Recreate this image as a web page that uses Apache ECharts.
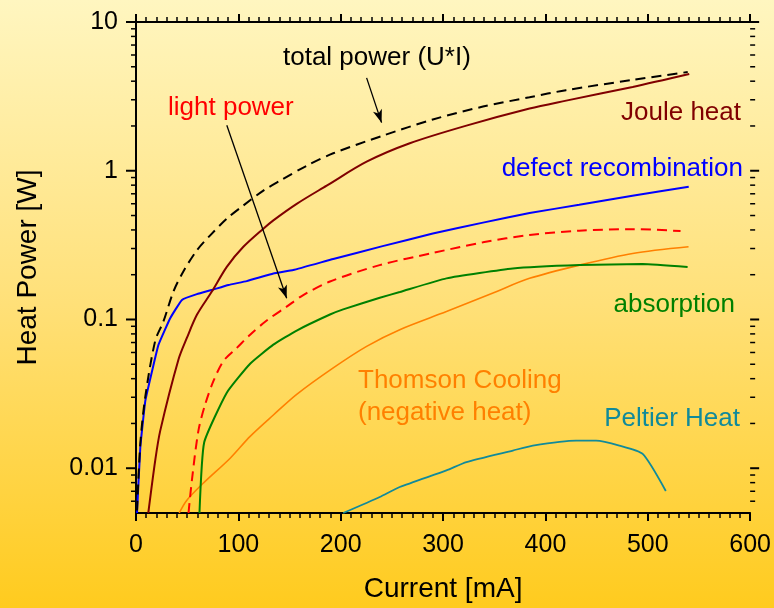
<!DOCTYPE html>
<html>
<head>
<meta charset="utf-8">
<script src="https://cdn.jsdelivr.net/npm/echarts@6/dist/echarts.min.js"></script>
<style>
  html, body { margin: 0; padding: 0; }
  #chart { width: 774px; height: 608px; }
</style>
</head>
<body>
<div id="chart"></div>
<script>
// Heat budget of an LED versus drive current, [current mA, power W]
const totalPower = [
  [1, 0.0052], [4.2, 0.0146], [9, 0.030], [18.8, 0.072], [26.9, 0.0975], [36.7, 0.155],
  [46.4, 0.211], [59.5, 0.292], [72.5, 0.368], [88.7, 0.476], [104.9, 0.584], [124.4, 0.735],
  [140.7, 0.857], [166.7, 1.08], [192.7, 1.31], [241, 1.72], [290, 2.21], [339, 2.70],
  [384.5, 3.12], [420, 3.48], [485, 4.08], [539, 4.61]
];
const jouleHeat = [
  [12, 0.005], [18.8, 0.0113], [23.7, 0.0179], [41.5, 0.0538], [49.7, 0.0751], [59.5, 0.1075],
  [74.1, 0.154], [88.7, 0.226], [104.9, 0.308], [124.4, 0.408], [134.2, 0.464], [157, 0.599],
  [186.3, 0.794], [225.3, 1.15], [267.5, 1.53], [322.8, 2.01], [384.5, 2.62], [420.3, 2.96],
  [485.2, 3.66], [540.5, 4.47]
];
const defectRecombination = [
  [1, 0.005], [4.2, 0.0138], [9.1, 0.0284], [17.2, 0.0498], [22, 0.0677], [33.4, 0.102],
  [44.9, 0.1354], [59.5, 0.148], [74.1, 0.158], [90.3, 0.1706], [108.2, 0.181], [134.2, 0.204],
  [153.7, 0.215], [192.7, 0.255], [240, 0.31], [290, 0.378], [339, 0.448], [384.5, 0.52],
  [433, 0.59], [485, 0.68], [540, 0.78]
];
const lightPower = [
  [51.3, 0.005], [54.6, 0.0083], [61, 0.0179], [67.6, 0.0269], [75.7, 0.0386], [85.4, 0.0525],
  [98.5, 0.0644], [111.5, 0.079], [127.7, 0.0984], [147.2, 0.122], [163.4, 0.146], [189.5, 0.18],
  [238, 0.232], [290, 0.28], [339, 0.33], [384.5, 0.37], [433, 0.395], [485, 0.405], [532, 0.393]
];
const absorption = [
  [62, 0.005], [66.6, 0.0149], [88.7, 0.0322], [111.5, 0.0504], [134.2, 0.0677], [157, 0.0843],
  [189.5, 0.108], [202.4, 0.117], [238.2, 0.140], [257.7, 0.153], [303.3, 0.189], [368.2, 0.220],
  [433.3, 0.232], [495, 0.236], [538.9, 0.2256]
];
const thomsonCooling = [
  [42.2, 0.005], [49.7, 0.0061], [65.9, 0.00795], [92, 0.01168], [111.5, 0.01638], [134.2, 0.0228],
  [157, 0.0314], [192.7, 0.0473], [225.3, 0.066], [257.7, 0.0854], [303.3, 0.113], [350, 0.152],
  [384.5, 0.189], [433.3, 0.232], [485.2, 0.278], [539.8, 0.308]
];
const peltierHeat = [
  [202.4, 0.005], [238.2, 0.00641], [257.7, 0.00748], [303.3, 0.00967], [322.8, 0.0110],
  [368.2, 0.01315], [387.7, 0.0142], [430, 0.01534], [449.5, 0.01534], [472.2, 0.0142],
  [495, 0.01248], [517.6, 0.00703]
];

// Annotation arrows: [from, to] in data units
const totalArrow = [[225.3, 4.21], [239.9, 2.105]];
const lightArrow = [[88.7, 2.02], [147.2, 0.139]];

// Axis ticks and labels
const xTickLabels = ['0', '100', '200', '300', '400', '500', '600'];
const yTickLabels = ['0.01', '0.1', '1', '10'];
const yMajorTicks = [0.01, 0.1, 1, 10];
const yMinorTicks = [
  0.006, 0.007, 0.008, 0.009,
  0.02, 0.03, 0.04, 0.05, 0.06, 0.07, 0.08, 0.09,
  0.2, 0.3, 0.4, 0.5, 0.6, 0.7, 0.8, 0.9,
  2, 3, 4, 5, 6, 7, 8, 9
];

const FONT = '"Liberation Sans", Arial, Helvetica, sans-serif';
const X_MIN = 0, X_MAX = 600, Y_MIN = 0.005, Y_MAX = 10;

const chart = echarts.init(document.getElementById('chart'), null, { renderer: 'canvas' });

const yTickData = yMajorTicks.map(v => [X_MIN, v, 1]).concat(yMinorTicks.map(v => [X_MIN, v, 0]));

function lineSeries(name, data, color, width, dashed, smooth, extra) {
  return Object.assign({
    name: name,
    type: 'line',
    data: data,
    symbol: 'none',
    smooth: smooth,
    silent: true,
    animation: false,
    lineStyle: { color: color, width: width, type: dashed ? [10, 6] : 'solid' },
    z: 3
  }, extra || {});
}

function arrowMark(pair) {
  return {
    silent: true,
    animation: false,
    symbol: ['none', 'none'],
    label: { show: false },
    lineStyle: { color: '#000', width: 1.3, type: 'solid' },
    emphasis: { disabled: true },
    data: [[
      { coord: pair[0], symbol: 'none' },
      { coord: pair[1], symbol: 'arrow', symbolSize: [7, 13] }
    ]]
  };
}

const commonX = {
  type: 'value',
  min: X_MIN,
  max: X_MAX,
  interval: 100,
  axisLine: { show: true, lineStyle: { color: '#000', width: 2 } },
  axisTick: { show: true, inside: false, length: 8, lineStyle: { color: '#000', width: 2 } },
  minorTick: { show: true, splitNumber: 10, length: 5, lineStyle: { color: '#000', width: 1.5 } },
  splitLine: { show: false },
  minorSplitLine: { show: false }
};

const commonY = {
  type: 'log',
  logBase: 10,
  min: Y_MIN,
  max: Y_MAX,
  axisLine: { show: true, lineStyle: { color: '#000', width: 2 } },
  axisTick: { show: false },
  splitLine: { show: false }
};

function txt(text, x, y, color, align) {
  return {
    type: 'text',
    x: x,
    y: y,
    silent: true,
    z: 10,
    style: {
      text: text,
      fill: color,
      font: '26px ' + FONT,
      align: align,
      verticalAlign: 'middle',
      textAlign: align,
      textVerticalAlign: 'middle'
    }
  };
}

const option = {
  animation: false,
  backgroundColor: {
    type: 'linear', x: 0, y: 0, x2: 0, y2: 1,
    colorStops: [
      { offset: 0, color: '#FFF6C0' },
      { offset: 0.5, color: '#FFE078' },
      { offset: 1, color: '#FFCB1E' }
    ]
  },
  grid: { left: 136, right: 23, top: 22, bottom: 92, containLabel: false },
  xAxis: [
    Object.assign({}, commonX, {
      position: 'bottom',
      name: 'Current [mA]',
      nameLocation: 'middle',
      nameGap: 62,
      nameTextStyle: { fontFamily: FONT, fontSize: 28, color: '#000' },
      axisLabel: {
        show: true, margin: 20, color: '#000', fontFamily: FONT, fontSize: 25,
        formatter: v => xTickLabels.find(t => Number(t) === v) || ''
      }
    }),
    Object.assign({}, commonX, {
      position: 'top',
      axisLabel: { show: false }
    })
  ],
  yAxis: [
    Object.assign({}, commonY, {
      position: 'left',
      name: 'Heat Power [W]',
      nameLocation: 'middle',
      nameRotate: 90,
      nameGap: 94,
      nameTextStyle: { fontFamily: FONT, fontSize: 28, color: '#000' },
      axisLabel: {
        show: true, margin: 18, color: '#000', fontFamily: FONT, fontSize: 25,
        showMinLabel: false,
        formatter: v => {
          const hit = yTickLabels.find(t => Math.abs(Math.log10(Number(t)) - Math.log10(v)) < 1e-6);
          return hit || '';
        }
      }
    }),
    Object.assign({}, commonY, {
      position: 'right',
      axisLabel: { show: false }
    })
  ],
  series: [
    // log-spaced ticks on the left and right frame edges
    {
      type: 'custom',
      silent: true,
      animation: false,
      clip: false,
      data: yTickData,
      encode: { x: 0, y: 1 },
      renderItem: function (params, api) {
        const v = api.value(1);
        const major = api.value(2) === 1;
        const lenL = major ? 10 : 5;
        const lenR = major ? 9 : 5;
        const pl = api.coord([X_MIN, v]);
        const pr = api.coord([X_MAX, v]);
        const st = { stroke: '#000', lineWidth: major ? 2 : 1.5 };
        return {
          type: 'group',
          children: [
            { type: 'line', shape: { x1: pl[0] - lenL, y1: pl[1], x2: pl[0], y2: pl[1] }, style: st },
            { type: 'line', shape: { x1: pr[0], y1: pr[1], x2: pr[0] + lenR, y2: pr[1] }, style: st }
          ]
        };
      }
    },
    lineSeries('Peltier Heat', peltierHeat, '#118A9A', 1.8, false, 0.2),
    lineSeries('Thomson Cooling', thomsonCooling, '#FF8000', 1.6, false, 0.3),
    lineSeries('absorption', absorption, '#008000', 2, false, 0.15),
    lineSeries('light power', lightPower, '#FF0000', 2, true, 0.3, { markLine: arrowMark(lightArrow) }),
    lineSeries('defect recombination', defectRecombination, '#0000FF', 2, false, 0.1),
    lineSeries('Joule heat', jouleHeat, '#800000', 2, false, 0.3),
    lineSeries('total power (U*I)', totalPower, '#000000', 2, true, 0.3, { markLine: arrowMark(totalArrow) })
  ],
  graphic: [
    txt('total power (U*I)', 283, 58, '#000000', 'left'),
    txt('light power', 168, 108, '#FF0000', 'left'),
    txt('Joule heat', 741, 113, '#800000', 'right'),
    txt('defect recombination', 743, 169, '#0000FF', 'right'),
    txt('absorption', 735, 305, '#008000', 'right'),
    txt('Thomson Cooling', 358, 381, '#FF8000', 'left'),
    txt('(negative heat)', 358, 413, '#FF8000', 'left'),
    txt('Peltier Heat', 740, 419, '#118A9A', 'right')
  ]
};

chart.setOption(option);
</script>
</body>
</html>
